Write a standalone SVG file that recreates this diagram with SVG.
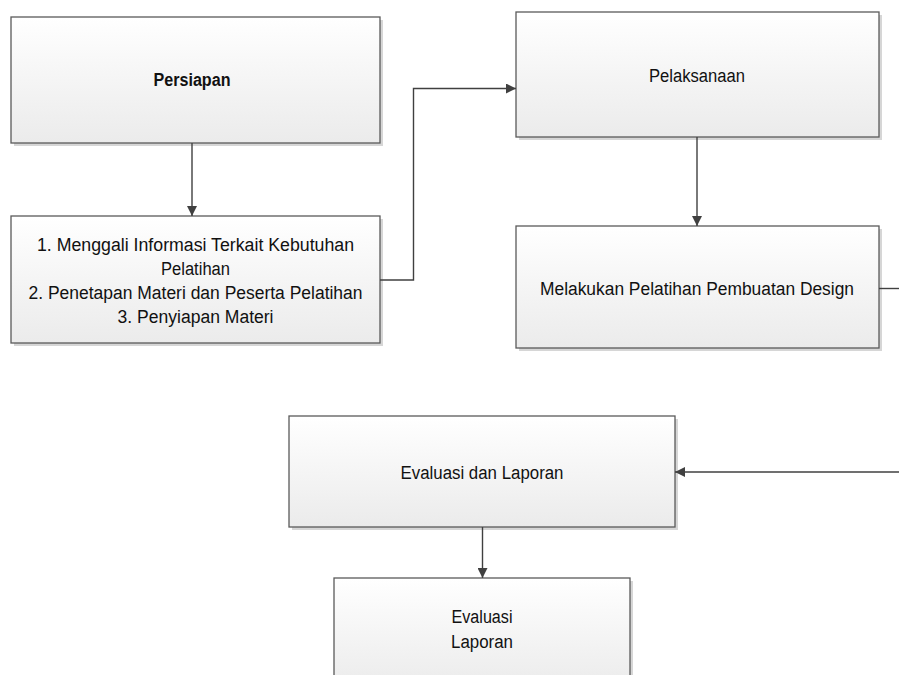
<svg xmlns="http://www.w3.org/2000/svg" width="899" height="675" viewBox="0 0 899 675">
<defs>
<linearGradient id="g" x1="0" y1="0" x2="0" y2="1">
<stop offset="0" stop-color="#ffffff"/>
<stop offset="1" stop-color="#ebebeb"/>
</linearGradient>
<marker id="arr" viewBox="0 0 10 10" refX="10" refY="5" markerWidth="10" markerHeight="10" markerUnits="userSpaceOnUse" orient="auto">
<path d="M0,0 L10,5 L0,10 Z" fill="#404040"/>
</marker>
<style>
.sh{fill:#d6d6d6;}
.bx{fill:url(#g);stroke:#5a5a5a;stroke-width:1.3;}
.t{font-family:"Liberation Sans",Arial,sans-serif;font-size:18px;fill:#111;text-anchor:middle;dominant-baseline:central;}
.b{font-weight:bold;}
.c{fill:none;stroke:#404040;stroke-width:1.4;}
</style>
</defs>
<rect width="899" height="675" fill="#ffffff"/>
<g id="persiapan">
<rect class="sh" x="14" y="20" width="369" height="126"/>
<rect class="bx" x="11" y="17" width="369" height="126"/>
<text class="t b" x="192" y="80" textLength="77" lengthAdjust="spacingAndGlyphs">Persiapan</text>
</g>
<g id="langkah-persiapan">
<rect class="sh" x="14" y="219" width="369" height="127"/>
<rect class="bx" x="11" y="216" width="369" height="127"/>
<text class="t" x="195.5" y="245" textLength="317" lengthAdjust="spacingAndGlyphs">1. Menggali Informasi Terkait Kebutuhan</text>
<text class="t" x="195.5" y="268.5" textLength="69" lengthAdjust="spacingAndGlyphs">Pelatihan</text>
<text class="t" x="195.5" y="293" textLength="334" lengthAdjust="spacingAndGlyphs">2. Penetapan Materi dan Peserta Pelatihan</text>
<text class="t" x="195.5" y="316.5" textLength="156" lengthAdjust="spacingAndGlyphs">3. Penyiapan Materi</text>
</g>
<g id="pelaksanaan">
<rect class="sh" x="519" y="15" width="363" height="125"/>
<rect class="bx" x="516" y="12" width="363" height="125"/>
<text class="t" x="697" y="76" textLength="96" lengthAdjust="spacingAndGlyphs">Pelaksanaan</text>
</g>
<g id="pelatihan-design">
<rect class="sh" x="519" y="229" width="363" height="122"/>
<rect class="bx" x="516" y="226" width="363" height="122"/>
<text class="t" x="697" y="288.5" textLength="314" lengthAdjust="spacingAndGlyphs">Melakukan Pelatihan Pembuatan Design</text>
</g>
<g id="evaluasi-laporan">
<rect class="sh" x="292" y="419" width="386" height="111"/>
<rect class="bx" x="289" y="416" width="386" height="111"/>
<text class="t" x="482" y="472.5" textLength="163" lengthAdjust="spacingAndGlyphs">Evaluasi dan Laporan</text>
</g>
<g id="evaluasi-laporan-2">
<rect class="sh" x="337" y="581" width="296" height="110"/>
<rect class="bx" x="334" y="578" width="296" height="110"/>
<text class="t" x="482" y="617" textLength="61" lengthAdjust="spacingAndGlyphs">Evaluasi</text>
<text class="t" x="482" y="641.5" textLength="62" lengthAdjust="spacingAndGlyphs">Laporan</text>
</g>
<g id="connectors">
<path class="c" d="M192,143 V216" marker-end="url(#arr)"/>
<path class="c" d="M380,280 H413.5 V88.5 H516" marker-end="url(#arr)"/>
<path class="c" d="M697,137 V226" marker-end="url(#arr)"/>
<path class="c" d="M879,288.5 H899"/>
<path class="c" d="M899,472 H675" marker-end="url(#arr)"/>
<path class="c" d="M482.5,527 V578" marker-end="url(#arr)"/>
</g>
</svg>
